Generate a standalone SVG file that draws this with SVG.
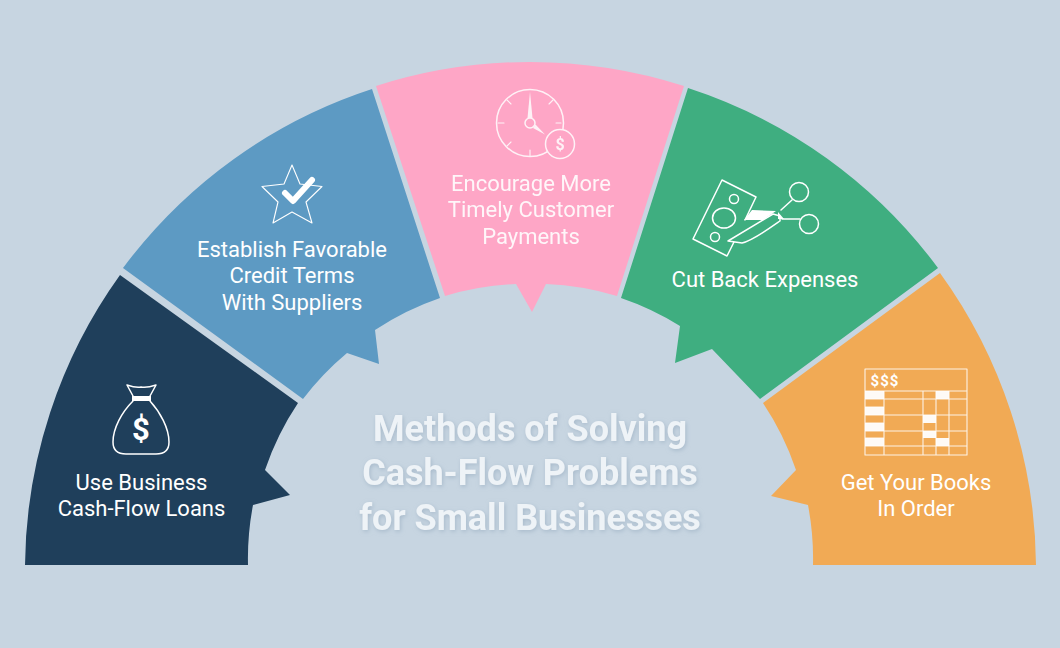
<svg xmlns="http://www.w3.org/2000/svg" width="1060" height="648" viewBox="0 0 1060 648">
<defs>
<filter id="soft" x="-5%" y="-10%" width="110%" height="125%"><feDropShadow dx="1" dy="1.5" stdDev="1" flood-color="#9fb2c4" flood-opacity="0.8"/></filter>
</defs>
<style>
.lbl{font-family:Roboto,"Liberation Sans",sans-serif;font-size:22px;fill:#fff;text-anchor:middle}
.ttl{font-family:Roboto,"Liberation Sans",sans-serif;font-size:36px;font-weight:700;fill:#eef3f7;text-anchor:middle}
.ic{fill:none;stroke:#fff;stroke-width:1.5;stroke-linejoin:round;stroke-linecap:round}
.sol{fill:#fff;stroke:none}
.sym{font-family:Roboto,"Liberation Sans",sans-serif;font-weight:700;fill:#fff;text-anchor:middle}
.thin{stroke-width:1.1}
</style>
<rect width="1060" height="648" fill="#c7d5e1"/>

<g id="node-loans">
<path fill="#1f3f5b" d="M25 565A505 505 0 0 1 120 275L298 403A283 283 0 0 0 265 470L290 495L253 505A283 283 0 0 0 248 565Z"/>
<path class="ic" d="M133 401C122 412 113 428 113 442C113 450 118 454 126 454L156 454C164 454 169 450 169 442C169 428 160 412 150 401"/>
<path class="ic" d="M133 396L127 385C133 387 136 388 141 387C146 388 150 387 156 385L150 396"/>
<rect class="sol" x="132" y="396" width="19" height="5"/>
<text class="sym" x="141" y="440" font-size="31">$</text>
<text class="lbl" x="141.500" y="489.500">Use Business</text>
<text class="lbl" x="141.500" y="516">Cash-Flow Loans</text>
</g>

<g id="node-credit">
<path fill="#5d9ac3" d="M123 268A505 505 0 0 1 372 89L440 298A283 283 0 0 0 375 330L379 364L347 353A283 283 0 0 0 303 399Z"/>
<path class="ic thin" d="M292 165L300 184L322 186.500L306 202L312 223L292 212L273 223L278 202L262 186.500L284 184Z"/>
<path d="M285 193L293 201L312 180" fill="none" stroke="#fff" stroke-width="6" stroke-linecap="round" stroke-linejoin="round"/>
<text class="lbl" x="292" y="256.500">Establish Favorable</text>
<text class="lbl" x="292" y="283">Credit Terms</text>
<text class="lbl" x="292" y="309.500">With Suppliers</text>
</g>

<g id="node-payments">
<path fill="#fea6c6" d="M376 86A505 505 0 0 1 684 86L617 296A283 283 0 0 0 546 284L532 312L516 284A283 283 0 0 0 445 296Z"/>
<g opacity="0.85">
<circle class="ic" cx="530" cy="123" r="33.500"/>
<path class="ic thin" d="M530 150V156M498 123H504M556 123H561M507 100L511 104M553 100L549 104M507 146L511 142"/>
<path class="sol" d="M530 92L532.500 118L527.500 118Z"/>
<path class="sol" d="M533 128L535.500 124.500L545 134.500Z"/>
<circle class="ic" cx="530" cy="123" r="5"/>
<circle cx="560" cy="144" r="14.500" fill="#fea6c6" stroke="#fff" stroke-width="1.5"/>
<text class="sym" x="560" y="150" font-size="16">$</text>
</g>
<g opacity="0.9">
<text class="lbl" x="531" y="190.500">Encourage More</text>
<text class="lbl" x="531" y="217">Timely Customer</text>
<text class="lbl" x="531" y="243.500">Payments</text>
</g>
</g>

<g id="node-expenses">
<path fill="#3fae80" d="M688 88A505 505 0 0 1 938 268L760 399L712 349L675 363L680 326A283 283 0 0 0 621 298Z"/>
<path class="ic" d="M745 220L756 197L722 180L693 239L727 256L736 238"/>
<ellipse class="ic" cx="724" cy="218" rx="11.500" ry="10"/>
<circle class="ic" cx="734" cy="199" r="4.500"/>
<circle class="ic" cx="715" cy="237" r="4.500"/>
<path class="sol" d="M752 210L776 211L763 220L744 220Z"/>
<path d="M728 241L773 214L780 216L780 221C770 228 752 241 742 243Z" fill="#3fae80" stroke="#fff" stroke-width="1.500" stroke-linejoin="round"/>
<path class="sol" d="M778 212L784 219L778 219Z"/>
<circle class="ic" cx="799" cy="192" r="9.500"/>
<circle class="ic" cx="809" cy="224" r="9.500"/>
<path class="ic" d="M781 210L792 200M782 219H800"/>
<text class="lbl" x="765" y="286.500">Cut Back Expenses</text>
</g>

<g id="node-books">
<path fill="#f1aa55" d="M940 273A505 505 0 0 1 1036 565L813 565A283 283 0 0 0 808 505L771 496L796 470A283 283 0 0 0 763 403Z"/>
<g fill="#fff" opacity="0.95">
<rect x="865" y="391" width="19" height="8"/><rect x="865" y="407" width="19" height="8"/><rect x="865" y="423" width="19" height="8"/><rect x="865" y="438" width="19" height="8"/>
<rect x="936" y="391" width="13" height="8"/><rect x="923" y="415" width="13" height="8"/><rect x="923" y="431" width="13" height="7"/><rect x="936" y="438" width="13" height="8"/>
</g>
<path class="ic thin" opacity="0.85" d="M865 369H967V455H865ZM865 391H967M865 399H967M865 407H884M865 415H967M865 423H884M865 431H967M865 438H884M865 446H967M884 391V455M923 391V455M936 391V455M949 391V455"/>
<text class="sym" x="885" y="386" font-size="15" letter-spacing="1">$$$</text>
<text class="lbl" x="916" y="489.500">Get Your Books</text>
<text class="lbl" x="916" y="516">In Order</text>
</g>

<g id="title" filter="url(#soft)">
<text class="ttl" x="530" y="440.500">Methods of Solving</text>
<text class="ttl" x="530" y="485">Cash-Flow Problems</text>
<text class="ttl" x="530" y="529.500">for Small Businesses</text>
</g>
</svg>
